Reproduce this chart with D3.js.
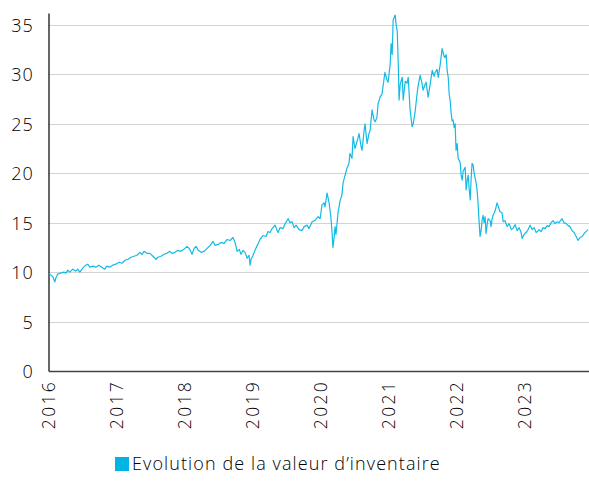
<!DOCTYPE html>
<html>
<head>
<meta charset="utf-8">
<script src="https://cdn.jsdelivr.net/npm/d3@7"></script>
<style>
  body { margin: 0; background: #fff; }
  svg text { font-family: "Open Sans", Lato, sans-serif; font-weight: 300; fill: #000; }
</style>
</head>
<body>
<svg width="589" height="484"></svg>
<script>

// Valeur d'inventaire
var dates = [
  "2016-01-04","2016-01-14","2016-01-25","2016-02-04","2016-02-09","2016-02-20","2016-03-07","2016-03-23","2016-04-03","2016-04-14",
  "2016-04-24","2016-05-10","2016-05-27","2016-06-06","2016-06-17","2016-07-03","2016-07-19","2016-07-30","2016-08-10","2016-08-26",
  "2016-09-11","2016-09-27","2016-10-13","2016-10-29","2016-11-09","2016-11-25","2016-12-11","2016-12-27",
  "2017-01-14","2017-01-30","2017-02-15","2017-03-03","2017-03-19","2017-04-04","2017-04-20","2017-05-06","2017-05-17","2017-05-28",
  "2017-06-13","2017-06-29","2017-07-15","2017-07-31","2017-08-11","2017-08-27","2017-09-12","2017-09-28","2017-10-14","2017-10-25",
  "2017-11-10","2017-11-26","2017-12-12","2017-12-28",
  "2018-01-14","2018-01-25","2018-02-05","2018-02-10","2018-02-21","2018-03-04","2018-03-15","2018-03-31","2018-04-16","2018-05-02",
  "2018-05-18","2018-06-03","2018-06-14","2018-06-30","2018-07-16","2018-08-01","2018-08-17","2018-09-02","2018-09-18","2018-09-29",
  "2018-10-10","2018-10-21","2018-10-31","2018-11-11","2018-11-22","2018-12-03","2018-12-13","2018-12-19","2018-12-24",
  "2019-01-04","2019-01-14","2019-01-31","2019-02-10","2019-02-26","2019-03-14","2019-03-25","2019-04-05","2019-04-16","2019-05-02",
  "2019-05-13","2019-05-18","2019-05-29","2019-06-14","2019-06-25","2019-07-11","2019-07-21","2019-08-01","2019-08-12","2019-08-23",
  "2019-09-08","2019-09-24","2019-10-05","2019-10-21","2019-10-31","2019-11-17","2019-12-03","2019-12-19","2019-12-30",
  "2020-01-09","2020-01-20","2020-01-25","2020-02-05","2020-02-16","2020-02-26","2020-03-03","2020-03-08","2020-03-14","2020-03-19",
  "2020-03-24","2020-04-04","2020-04-15","2020-04-25","2020-05-01","2020-05-12","2020-05-22","2020-06-02","2020-06-07","2020-06-18",
  "2020-06-24","2020-07-04","2020-07-15","2020-07-26","2020-08-05","2020-08-11","2020-08-22","2020-08-27","2020-09-07","2020-09-17",
  "2020-09-23","2020-10-04","2020-10-14","2020-10-20","2020-10-30","2020-11-05","2020-11-16","2020-11-26","2020-12-07","2020-12-12",
  "2020-12-23","2020-12-29",
  "2021-01-09","2021-01-14","2021-01-20","2021-01-25","2021-02-05","2021-02-10","2021-02-16","2021-02-21","2021-02-26","2021-03-04",
  "2021-03-15","2021-03-20","2021-03-31","2021-04-10","2021-04-16","2021-04-26","2021-05-02","2021-05-07","2021-05-13","2021-05-23",
  "2021-06-03","2021-06-08","2021-06-19","2021-06-30","2021-07-05","2021-07-16","2021-07-21","2021-08-01","2021-08-12","2021-08-23",
  "2021-09-02","2021-09-08","2021-09-18","2021-09-24","2021-10-05","2021-10-15","2021-10-26","2021-10-31","2021-11-06","2021-11-11",
  "2021-11-17","2021-11-22","2021-11-27","2021-12-03","2021-12-08","2021-12-13","2021-12-19","2021-12-24","2021-12-29",
  "2022-01-04","2022-01-09","2022-01-20","2022-01-25","2022-01-31","2022-02-05","2022-02-16","2022-02-21","2022-02-26","2022-03-04",
  "2022-03-09","2022-03-15","2022-03-20","2022-03-25","2022-03-31","2022-04-05","2022-04-16","2022-04-21","2022-04-26","2022-05-02",
  "2022-05-07","2022-05-13","2022-05-18","2022-05-23","2022-05-29","2022-06-03","2022-06-08","2022-06-14","2022-06-19","2022-06-30",
  "2022-07-05","2022-07-11","2022-07-16","2022-07-27","2022-08-06","2022-08-12","2022-08-22","2022-09-02","2022-09-08","2022-09-18",
  "2022-09-29","2022-10-10","2022-10-21","2022-10-31","2022-11-11","2022-11-22","2022-12-03","2022-12-13","2022-12-19","2022-12-29",
  "2023-01-09","2023-01-20","2023-01-31","2023-02-10","2023-02-21","2023-03-04","2023-03-09","2023-03-20","2023-03-31","2023-04-10",
  "2023-04-21","2023-05-02","2023-05-13","2023-05-23","2023-06-03","2023-06-14","2023-06-25","2023-07-05","2023-07-21","2023-08-01",
  "2023-08-12","2023-08-23","2023-09-02","2023-09-13","2023-09-24","2023-10-05","2023-10-15","2023-10-26","2023-11-06","2023-11-17",
  "2023-11-27","2023-12-08"
];

var values = [
  9.9, 9.7, 9.5, 9.0, 9.4, 9.8, 9.9, 10.0, 9.9, 10.2,
  10.0, 10.3, 10.1, 10.3, 10.0, 10.4, 10.7, 10.8, 10.5, 10.6,
  10.5, 10.7, 10.5, 10.3, 10.6, 10.5, 10.7, 10.8,
  11.0, 10.9, 11.2, 11.3, 11.5, 11.6, 11.7, 12.0, 11.8, 12.1,
  11.9, 11.9, 11.6, 11.3, 11.5, 11.6, 11.8, 11.9, 12.1, 11.9,
  12.0, 12.2, 12.1, 12.3,
  12.6, 12.4, 12.0, 11.8, 12.4, 12.6, 12.2, 12.0, 12.1, 12.4,
  12.7, 13.1, 12.7, 12.8, 13.0, 12.9, 13.3, 13.2, 13.5, 13.0,
  12.1, 12.3, 11.8, 12.2, 12.0, 11.4, 11.7, 10.7, 11.3,
  11.7, 12.2, 12.9, 13.3, 13.7, 13.6, 14.1, 14.0, 14.4, 14.75,
  14.2, 14.0, 14.5, 14.4, 14.9, 15.4, 15.0, 15.1, 14.5, 14.75,
  14.3, 14.2, 14.6, 14.75, 14.4, 15.1, 15.25, 15.6, 15.4,
  16.8, 17.0, 16.6, 18.0, 17.0, 15.5, 14.0, 12.5, 13.5, 14.6,
  13.8, 16.0, 17.2, 17.8, 19.0, 19.8, 20.5, 21.0, 22.0, 21.5,
  23.7, 22.5, 23.2, 24.0, 22.8, 22.3, 24.3, 25.0, 23.0, 24.0,
  24.3, 26.4, 25.4, 25.2, 25.6, 27.0, 27.7, 28.0, 29.5, 30.2,
  29.4, 29.2,
  31.0, 33.1, 32.0, 35.5, 36.0, 35.0, 34.4, 31.4, 27.4, 29.0,
  29.7, 27.4, 29.3, 29.1, 29.7, 26.4, 25.5, 24.7, 25.0, 26.2,
  28.1, 28.8, 29.9, 29.0, 28.4, 29.0, 29.2, 27.7, 29.0, 30.4,
  29.8, 30.2, 30.5, 29.7, 31.0, 32.6, 31.8, 31.7, 32.0, 30.4,
  29.7, 28.0, 27.4, 26.0, 25.3, 25.4, 24.6, 25.0, 22.3,
  23.0, 21.5, 21.1, 19.8, 19.3, 20.2, 20.6, 18.3, 19.2, 19.8,
  18.5, 17.3, 19.5, 21.0, 20.8, 20.0, 19.0, 18.3, 17.0, 15.0,
  13.6, 14.3, 15.25, 15.75, 15.0, 15.6, 13.9, 14.8, 15.4, 15.2,
  14.6, 15.4, 15.75, 16.2, 17.0, 16.7, 16.1, 16.0, 15.1, 15.2,
  14.6, 14.9, 14.3, 14.4, 14.8, 14.2, 14.5, 14.0, 13.4, 13.8,
  14.0, 14.3, 14.75, 14.3, 14.5, 14.0, 14.07, 14.3, 14.1, 14.5,
  14.4, 14.7, 14.6, 15.0, 15.2, 14.9, 15.1, 15.0, 15.4, 15.0,
  14.9, 14.7, 14.6, 14.2, 14.0, 13.6, 13.2, 13.5, 13.6, 13.9,
  14.1, 14.3
];

var yearTicks = [2016, 2017, 2018, 2019, 2020, 2021, 2022, 2023];
var valueTicks = [0, 5, 10, 15, 20, 25, 30, 35];
var seriesName = "Evolution de la valeur d\u2019inventaire";

var parseDate = d3.timeParse("%Y-%m-%d");
var data = dates.map(function(d, i) { return { date: parseDate(d), value: values[i] }; });

var svg = d3.select("svg");

var x = d3.scaleTime()
          .domain([new Date(2016, 0, 1), new Date(2023, 11, 13)])
          .range([48.5, 589]);

var y = d3.scaleLinear()
          .domain([0, 36.2])
          .range([371, 13]);

// grille horizontale
svg.append("g")
   .selectAll("line")
   .data(valueTicks.filter(function(d) { return d > 0; }))
   .enter().append("line")
     .attr("x1", 48.5)
     .attr("x2", 589)
     .attr("y1", function(d) { return Math.round(y(d)) + 0.5; })
     .attr("y2", function(d) { return Math.round(y(d)) + 0.5; })
     .attr("stroke", "#d3d3d3")
     .attr("stroke-width", 1);

// axe y
var yAxis = svg.append("g")
   .attr("transform", "translate(48.5,0)")
   .call(d3.axisLeft(y).tickValues(valueTicks).tickSize(0).tickPadding(15));
yAxis.select(".domain").attr("stroke", "#000").attr("stroke-width", 1.2);
yAxis.selectAll("text")
     .style("font-size", "18px")
     .style("letter-spacing", "0.8px")
     .attr("dy", "0.36em");

// axe x
var xAxis = svg.append("g")
   .attr("transform", "translate(0,371)")
   .call(d3.axisBottom(x)
           .tickValues(yearTicks.map(function(d) { return new Date(d, 0, 1); }))
           .tickFormat(d3.timeFormat("%Y"))
           .tickSize(0));
xAxis.select(".domain").attr("stroke", "#444").attr("stroke-width", 1.5);
xAxis.selectAll("text")
     .style("font-size", "17.5px")
     .style("letter-spacing", "2.3px")
     .attr("text-anchor", "end")
     .attr("transform", "rotate(-90)")
     .attr("x", -9)
     .attr("y", 0)
     .attr("dy", "0.36em");

// courbe
var line = d3.line()
             .x(function(d) { return x(d.date); })
             .y(function(d) { return y(d.value); });

svg.append("path")
   .datum(data)
   .attr("fill", "none")
   .attr("stroke", "#12bbe6")
   .attr("stroke-width", 1.2)
   .attr("stroke-linejoin", "round")
   .attr("d", line);

// légende
var legend = svg.append("g").attr("transform", "translate(115,457)");
legend.append("rect")
      .attr("width", 14)
      .attr("height", 14)
      .attr("fill", "#00b5e2");
legend.append("text")
      .attr("x", 17)
      .attr("y", 13)
      .style("font-size", "18px")
      .style("letter-spacing", "1.1px")
      .text(seriesName);

</script>
</body>
</html>
